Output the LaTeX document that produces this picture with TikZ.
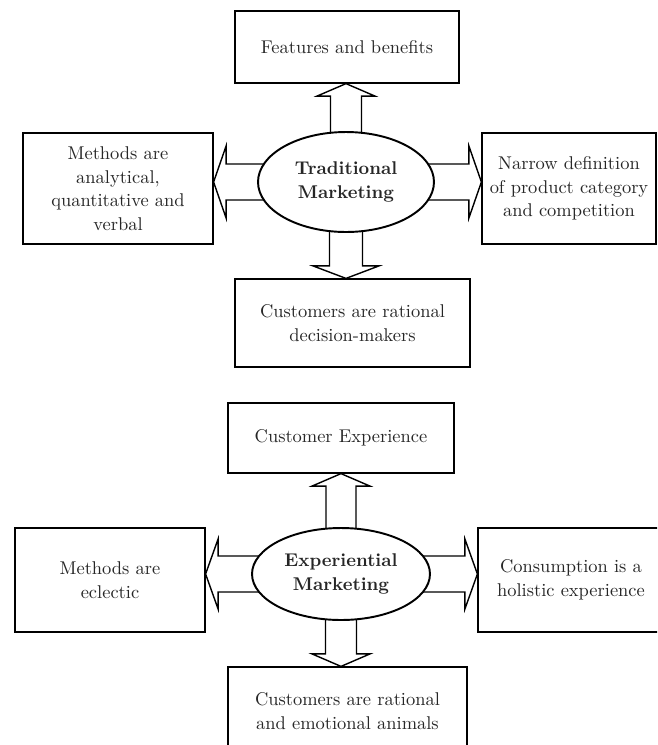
\documentclass[tikz,border=0pt]{standalone}
\usepackage{tikz}
\usetikzlibrary{shapes.geometric,calc,backgrounds}

\newcommand{\fatarrow}[4]{%
  \coordinate (hb) at ($(#2)!0.25cm!(#1)$);
  \draw[fatline] ($(#1)!#3!90:(#2)$) -- ($(hb)!#3!90:(#2)$) -- ($(hb)!#4!90:(#2)$) -- (#2)
       -- ($(hb)!#4!-90:(#2)$) -- ($(hb)!#3!-90:(#2)$) -- ($(#1)!#3!-90:(#2)$) -- cycle;
}

\begin{document}
\begin{tikzpicture}[x=0.02cm, y=-0.02cm,
             every node/.style={font=\fontsize{10.5}{13.4}\selectfont, text=black!85, align=center},
             box/.style={draw, fill=white, line width=.7pt, inner sep=1pt},
             mk/.style={draw, ellipse, fill=white, line width=1.1pt, inner sep=0pt,
                        font=\fontsize{10.5}{13.4}\selectfont\bfseries},
             fatline/.style={draw, fill=white, line width=.8pt, line join=miter}]
             \useasboundingbox (0,0) rectangle (657,745);
             \clip (0,0) rectangle (657,745);

             \node[box, minimum width=4.48cm, minimum height=1.44cm] (feat) at (347,47) {Features and benefits};
             \node[box, minimum width=3.8cm, minimum height=2.22cm] (meth) at (118,188.5) {Methods are\\analytical,\\quantitative and\\verbal};
             \node[box, minimum width=3.48cm, minimum height=2.22cm] (narrow) at (569,188.5) {Narrow definition\\of product category\\and competition};
             \node[box, minimum width=4.7cm, minimum height=1.76cm] (rational) at (352.5,323) {Customers are rational\\decision-makers};
             \node[mk, minimum width=3.52cm, minimum height=2cm] (trad) at (346,182) {Traditional\\Marketing};

             \node[box, minimum width=4.52cm, minimum height=1.4cm] (exp) at (341,438) {Customer Experience};
             \node[box, minimum width=3.8cm, minimum height=2.08cm] (eclectic) at (110,580) {Methods are\\eclectic};
             \node[box, minimum width=3.72cm, minimum height=2.08cm] (holistic) at (571,580) {Consumption is a\\holistic experience};
             \node[box, minimum width=4.78cm, minimum height=1.76cm] (animals) at (347.5,711) {Customers are rational\\and emotional animals};
             \node[mk, minimum width=3.56cm, minimum height=1.84cm] (expm) at (341,574) {Experiential\\Marketing};

             \begin{pgfonlayer}{background}
             \fatarrow{trad.center}{trad.center |- feat.south}{0.31cm}{0.58cm}
             \fatarrow{trad.center}{trad.center |- rational.north}{0.33cm}{0.66cm}
             \fatarrow{trad.center}{meth.east |- trad.center}{0.36cm}{0.72cm}
             \fatarrow{trad.center}{narrow.west |- trad.center}{0.36cm}{0.72cm}

             \fatarrow{expm.center}{expm.center |- exp.south}{0.3cm}{0.58cm}
             \fatarrow{expm.center}{expm.center |- animals.north}{0.31cm}{0.58cm}
             \fatarrow{expm.center}{eclectic.east |- expm.center}{0.36cm}{0.7cm}
             \fatarrow{expm.center}{holistic.west |- expm.center}{0.36cm}{0.7cm}
             \end{pgfonlayer}
\end{tikzpicture}
\end{document}
